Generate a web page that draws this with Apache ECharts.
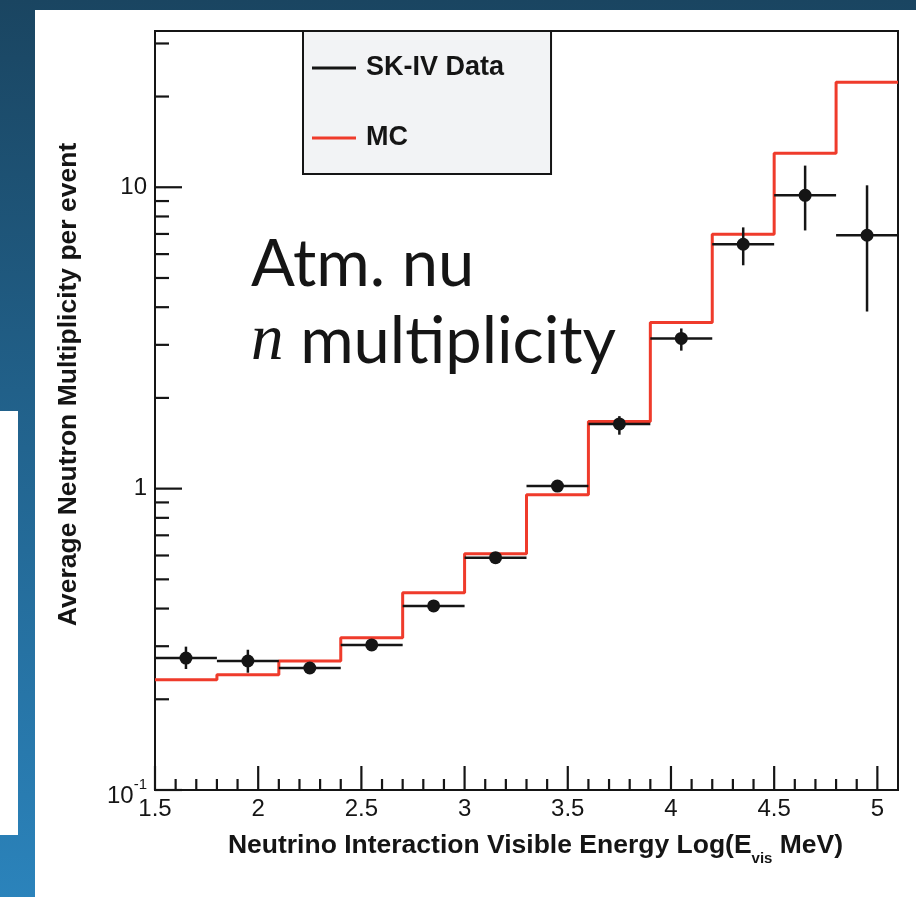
<!DOCTYPE html>
<html><head><meta charset="utf-8">
<script src="https://cdn.jsdelivr.net/npm/echarts@6/dist/echarts.min.js"></script>
<style>html,body{margin:0;padding:0;background:#fff}#c{width:916px;height:897px}</style>
</head><body><div id="c"></div>
<script>
// ---- data ----
const binEdges = [1.5, 1.8, 2.1, 2.4, 2.7, 3.0, 3.3, 3.6, 3.9, 4.2, 4.5, 4.8, 5.1];
const binCenters = [1.65, 1.95, 2.25, 2.55, 2.85, 3.15, 3.45, 3.75, 4.05, 4.35, 4.65, 4.95];
const mcValues = [0.232, 0.241, 0.268, 0.320, 0.451, 0.608, 0.955, 1.67, 3.56, 6.98, 12.97, 22.3];
const dataValues = [0.274, 0.268, 0.254, 0.303, 0.408, 0.590, 1.02, 1.64, 3.15, 6.47, 9.4, 6.93];
const dataLow = [0.252, 0.245, 0.246, 0.293, 0.396, 0.572, 0.98, 1.51, 2.87, 5.51, 7.19, 3.87];
const dataHigh = [0.299, 0.292, 0.262, 0.313, 0.420, 0.608, 1.06, 1.74, 3.40, 7.36, 11.8, 10.15];
const xMajorTicks = [1.5, 2, 2.5, 3, 3.5, 4, 4.5, 5];
const xMinorTicks = [1.6, 1.7, 1.8, 1.9, 2.1, 2.2, 2.3, 2.4, 2.6, 2.7, 2.8, 2.9, 3.1, 3.2, 3.3, 3.4,
                     3.6, 3.7, 3.8, 3.9, 4.1, 4.2, 4.3, 4.4, 4.6, 4.7, 4.8, 4.9];
const yMajorTicks = [0.1, 1, 10];
const yMinorTicks = [0.2, 0.3, 0.4, 0.5, 0.6, 0.7, 0.8, 0.9, 2, 3, 4, 5, 6, 7, 8, 9, 20, 30];
const X_MIN = 1.5, X_MAX = 5.1, Y_MIN = 0.1, Y_MAX = 33;

// ---- styles ----
const INK = '#151515';
const RED = '#ef3b2b';
const FONT = '"Liberation Sans", Arial, Helvetica, sans-serif';
const TICK = { xMajor: 24, xMinor: 11, yMajor: 27, yMinor: 14 };

const mcLine = binEdges.map((e, i) => [e, mcValues[Math.min(i, mcValues.length - 1)]]);
const pts = binCenters.map((c, i) => [c, dataValues[i], dataLow[i], dataHigh[i], binEdges[i], binEdges[i + 1]]);
const tickData = []
  .concat(xMajorTicks.map(v => [v, Y_MIN, 0]))
  .concat(xMinorTicks.map(v => [v, Y_MIN, 1]))
  .concat(yMajorTicks.map(v => [X_MIN, v, 2]))
  .concat(yMinorTicks.map(v => [X_MIN, v, 3]));

const chart = echarts.init(document.getElementById('c'), null, { renderer: 'canvas' });

const option = {
  animation: false,
  backgroundColor: 'transparent',
  graphic: [
    { type: 'rect', z: -100, silent: true, shape: { x: 0, y: 0, width: 916, height: 897 },
      style: { fill: new echarts.graphic.LinearGradient(0, 0, 0, 1, [
        { offset: 0, color: '#1a4561' }, { offset: 0.5, color: '#22648f' }, { offset: 1, color: '#2b83bb' }]) } },
    { type: 'rect', z: -99, silent: true, shape: { x: 35, y: 10, width: 881, height: 887 }, style: { fill: '#ffffff' } },
    { type: 'rect', z: -99, silent: true, shape: { x: 0, y: 411, width: 18, height: 424 }, style: { fill: '#ffffff' } },
    { type: 'text', z: 10, silent: true, x: 251, y: 265,
      style: { text: 'Atm. nu', font: '65px Lato, "Open Sans", sans-serif', fill: INK, verticalAlign: 'middle', align: 'left' } },
    { type: 'text', z: 10, silent: true, x: 251, y: 342,
      style: { text: '{i|n} multiplicity', font: '65px Lato, "Open Sans", sans-serif', fill: INK, verticalAlign: 'middle', align: 'left',
        rich: { i: { font: 'italic 65px "Liberation Serif", "DejaVu Serif", serif', fill: INK } } } }
  ],
  grid: { left: 155, right: 18, top: 31, bottom: 107, show: true, borderColor: INK, borderWidth: 2, backgroundColor: 'transparent' },
  legend: {
    orient: 'vertical', left: 303, top: 31,
    data: ['SK-IV Data', 'MC'],
    icon: 'rect', itemWidth: 44, itemHeight: 3, itemGap: 42,
    padding: [23, 47, 22, 9],
    backgroundColor: '#f2f3f5', borderColor: INK, borderWidth: 2, borderRadius: 0,
    textStyle: { fontFamily: FONT, fontWeight: 'bold', fontSize: 27, lineHeight: 28, color: INK, padding: [0, 0, 0, 5] },
    selectedMode: false
  },
  xAxis: {
    type: 'value', min: X_MIN, max: X_MAX, interval: 0.5,
    axisLine: { show: false }, axisTick: { show: false }, splitLine: { show: false },
    axisLabel: { showMaxLabel: false, margin: 7, fontFamily: FONT, fontSize: 24, color: INK },
    name: '{t|Neutrino Interaction Visible Energy Log(E}{s|vis}{t| MeV)}',
    nameLocation: 'middle', nameGap: 42,
    nameTextStyle: {
      padding: [0, 0, 0, 18],
      rich: {
        t: { fontFamily: FONT, fontWeight: 'bold', fontSize: 26.5, lineHeight: 28, color: INK, verticalAlign: 'top' },
        s: { fontFamily: FONT, fontWeight: 'bold', fontSize: 15, lineHeight: 16, color: INK, verticalAlign: 'top', padding: [19, 0, 0, 0] }
      }
    }
  },
  yAxis: {
    type: 'log', logBase: 10, min: Y_MIN, max: Y_MAX,
    axisLine: { show: false }, axisTick: { show: false }, splitLine: { show: false }, minorTick: { show: false },
    axisLabel: {
      showMaxLabel: false, margin: 8, fontFamily: FONT, fontSize: 24, color: INK,
      formatter: function (v) {
        const e = Math.log10(v), r = Math.round(e);
        if (Math.abs(e - r) > 1e-6) return '';
        if (r === -1) return '{b|10}{p|-1}';
        return String(Math.round(Math.pow(10, r)));
      },
      rich: {
        b: { fontFamily: FONT, fontSize: 24, lineHeight: 26, color: INK, verticalAlign: 'top', padding: [7, 0, 0, 0] },
        p: { fontFamily: FONT, fontSize: 15, lineHeight: 16, color: INK, verticalAlign: 'top' }
      }
    },
    name: 'Average Neutron Multiplicity per event',
    nameLocation: 'middle', nameGap: 73, nameRotate: 90,
    nameTextStyle: { fontFamily: FONT, fontWeight: 'bold', fontSize: 26.5, color: INK, padding: [0, 0, 0, 52] }
  },
  series: [
    {
      name: 'MC', type: 'line', step: 'end', data: mcLine, symbol: 'none', z: 2,
      lineStyle: { color: RED, width: 3 }, itemStyle: { color: RED }, clip: false
    },
    {
      name: 'SK-IV Data', type: 'custom', z: 3, data: pts, itemStyle: { color: INK },
      encode: { x: 0, y: 1 },
      renderItem: function (params, api) {
        const x = api.value(0), y = api.value(1);
        const c = api.coord([x, y]);
        const l = api.coord([api.value(4), y]);
        const r = api.coord([api.value(5), y]);
        const lo = api.coord([x, api.value(2)]);
        const hi = api.coord([x, api.value(3)]);
        const ls = { stroke: INK, lineWidth: 2.5 };
        return { type: 'group', children: [
          { type: 'line', shape: { x1: l[0], y1: c[1], x2: r[0], y2: c[1] }, style: ls },
          { type: 'line', shape: { x1: c[0], y1: lo[1], x2: c[0], y2: hi[1] }, style: ls },
          { type: 'circle', shape: { cx: c[0], cy: c[1], r: 6.5 }, style: { fill: INK } }
        ] };
      }
    },
    {
      name: 'ticks', type: 'custom', z: 4, silent: true, data: tickData, encode: { x: 0, y: 1 },
      renderItem: function (params, api) {
        const p = api.coord([api.value(0), api.value(1)]);
        const k = api.value(2);
        const st = { stroke: INK, lineWidth: 2.2 };
        if (k < 2) {
          const len = k === 0 ? TICK.xMajor : TICK.xMinor;
          return { type: 'line', shape: { x1: p[0], y1: p[1], x2: p[0], y2: p[1] - len }, style: st };
        }
        const len = k === 2 ? TICK.yMajor : TICK.yMinor;
        return { type: 'line', shape: { x1: p[0], y1: p[1], x2: p[0] + len, y2: p[1] }, style: st };
      }
    }
  ]
};
chart.setOption(option);
</script>
</body></html>
